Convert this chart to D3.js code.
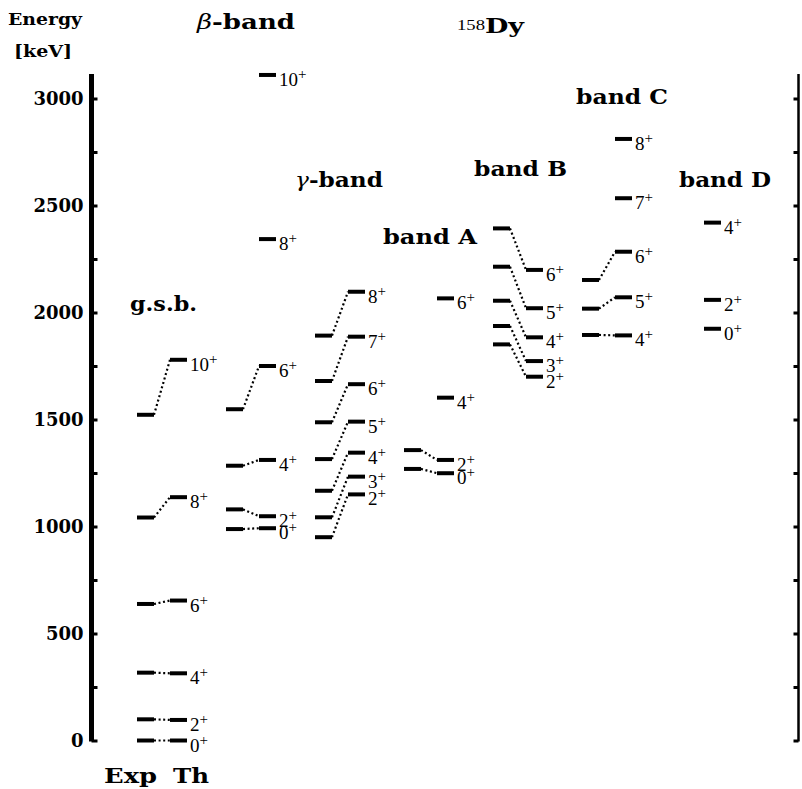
<!DOCTYPE html>
<html>
<head>
<meta charset="utf-8">
<script src="https://cdn.jsdelivr.net/npm/d3@7"></script>
<style>
  body { margin: 0; background: #fff; }
  .spin { font-family: "Liberation Serif", serif; font-size: 19px; fill: #000; }
  .ttl { font-family: "DejaVu Serif", serif; font-weight: bold; fill: #000; }
  .tick text { font-family: "DejaVu Serif", serif; font-weight: bold; font-size: 18px; fill: #000; }
</style>
</head>
<body>
<script>

// 158Dy level energies (keV)
var bands = ["g.s.b.", "β-band", "γ-band", "band A", "band B", "band C", "band D"];

var gsbSpins = ["0", "2", "4", "6", "8", "10"];
var gsbExp = [0, 99, 317, 638, 1042, 1522];
var gsbTh = [0, 96, 314, 654, 1137, 1779];

var betaSpins = ["0", "2", "4", "6", "8", "10"];
var betaExp = [988, 1080, 1284, 1548];
var betaTh = [992, 1048, 1311, 1750, 2343, 3110];

var gammaSpins = ["2", "3", "4", "5", "6", "7", "8"];
var gammaExp = [950, 1043, 1167, 1315, 1487, 1680, 1892];
var gammaTh = [1150, 1233, 1345, 1490, 1665, 1887, 2097];

var bandASpins = ["0", "2", "4", "6"];
var bandAExp = [1269, 1357];
var bandATh = [1249, 1311, 1602, 2066];

var bandBSpins = ["2", "3", "4", "5", "6"];
var bandBExp = [1851, 1937, 2055, 2214, 2393];
var bandBTh = [1700, 1773, 1884, 2020, 2199];

var bandCSpins = ["4", "5", "6", "7", "8"];
var bandCExp = [1895, 2018, 2152];
var bandCTh = [1893, 2071, 2284, 2534, 2811];

var bandDSpins = ["0", "2", "4"];
var bandDExp = [];
var bandDTh = [1924, 2059, 2420];

var majorTicks = [0, 500, 1000, 1500, 2000, 2500, 3000];
var minorTicks = d3.range(0, 3001, 250);

var levels = [
  {band: bands[0], spins: gsbSpins, exp: gsbExp, th: gsbTh},
  {band: bands[1], spins: betaSpins, exp: betaExp, th: betaTh},
  {band: bands[2], spins: gammaSpins, exp: gammaExp, th: gammaTh},
  {band: bands[3], spins: bandASpins, exp: bandAExp, th: bandATh},
  {band: bands[4], spins: bandBSpins, exp: bandBExp, th: bandBTh},
  {band: bands[5], spins: bandCSpins, exp: bandCExp, th: bandCTh},
  {band: bands[6], spins: bandDSpins, exp: bandDExp, th: bandDTh}
];

var width = 802, height = 789;

var svg = d3.select("body").append("svg")
  .attr("width", width)
  .attr("height", height);

var y = d3.scaleLinear().domain([0, 3000]).range([740.5, 98.5]);
var x = d3.scalePoint().domain(bands).range([162, 696]);

var axisL = 91.5, axisR = 798.5;

// left axis: ticks inward, labels outside
svg.append("g")
  .attr("transform", "translate(" + axisL + ",0)")
  .call(d3.axisRight(y).tickValues(minorTicks).tickSize(6).tickFormat(""))
  .call(function(g) {
    g.select(".domain").remove();
    g.selectAll(".tick line").attr("stroke", "#000").attr("stroke-width", 3);
  });

svg.append("g")
  .attr("transform", "translate(" + axisL + ",0)")
  .call(d3.axisLeft(y).tickValues(majorTicks).tickSize(0).tickPadding(8).tickFormat(d3.format("d")))
  .call(function(g) { g.select(".domain").remove(); })
  .selectAll("text").attr("dy", "0.36em");

svg.append("line")
  .attr("x1", axisL).attr("x2", axisL)
  .attr("y1", y(3115)).attr("y2", y(0) + 1)
  .attr("stroke", "#000").attr("stroke-width", 5);

// right axis
svg.append("g")
  .attr("transform", "translate(" + axisR + ",0)")
  .call(d3.axisLeft(y).tickValues(minorTicks).tickSize(5).tickFormat(""))
  .call(function(g) {
    g.select(".domain").remove();
    g.selectAll(".tick line").attr("stroke", "#000").attr("stroke-width", 3);
  });

svg.append("line")
  .attr("x1", axisR).attr("x2", axisR)
  .attr("y1", y(3115)).attr("y2", y(0) + 1)
  .attr("stroke", "#000").attr("stroke-width", 2.5);

// levels
var half = 25, inner = 8;

var bandG = svg.selectAll("g.band")
  .data(levels)
  .enter().append("g")
  .attr("class", "band")
  .attr("transform", function(d) { return "translate(" + x(d.band) + ",0)"; });

// connectors exp -> th
bandG.selectAll("line.conn")
  .data(function(d) { return d.exp.map(function(e, i) { return {e: e, t: d.th[i]}; }); })
  .enter().append("line")
  .attr("class", "conn")
  .attr("x1", -inner).attr("x2", inner)
  .attr("y1", function(d) { return y(d.e); })
  .attr("y2", function(d) { return y(d.t); })
  .attr("stroke", "#000")
  .attr("stroke-width", 2.2)
  .attr("stroke-dasharray", "2,2.6");

bandG.selectAll("line.exp")
  .data(function(d) { return d.exp; })
  .enter().append("line")
  .attr("class", "exp")
  .attr("x1", -half).attr("x2", -inner)
  .attr("y1", function(d) { return y(d); })
  .attr("y2", function(d) { return y(d); })
  .attr("stroke", "#000").attr("stroke-width", 4);

bandG.selectAll("line.th")
  .data(function(d) { return d.th; })
  .enter().append("line")
  .attr("class", "th")
  .attr("x1", inner).attr("x2", half)
  .attr("y1", function(d) { return y(d); })
  .attr("y2", function(d) { return y(d); })
  .attr("stroke", "#000").attr("stroke-width", 4);

var lab = bandG.selectAll("text.spin")
  .data(function(d) { return d.th.map(function(t, i) { return {t: t, s: d.spins[i]}; }); })
  .enter().append("text")
  .attr("class", "spin")
  .attr("x", half + 3)
  .attr("y", function(d) { return y(d.t) + 11; });

lab.append("tspan").text(function(d) { return d.s; });
lab.append("tspan")
  .attr("font-size", 15)
  .attr("dy", -7)
  .text("+");

// titles
function title(parts, tx, ty, w, size) {
  var t = svg.append("text")
    .attr("class", "ttl")
    .attr("x", tx).attr("y", ty)
    .attr("font-size", size)
    .attr("textLength", w)
    .attr("lengthAdjust", "spacingAndGlyphs");
  parts.forEach(function(p) {
    var s = t.append("tspan").text(p.text);
    if (p.italic) s.attr("font-style", "italic").attr("font-weight", "normal");
  });
  return t;
}

var titlePos = {
  "g.s.b.": [130, 311, 67],
  "γ-band": [295, 187, 88],
  "band A": [383, 244, 94],
  "band B": [474, 176, 93],
  "band C": [576, 104, 92],
  "band D": [679, 187, 92]
};

bands.forEach(function(b) {
  var p = titlePos[b];
  if (b === "β-band") {
    title([{text: "β", italic: true}, {text: "-band"}], 197, 29, 98, 20.5);
  } else if (b === "γ-band") {
    title([{text: "γ", italic: true}, {text: "-band"}], p[0], p[1], p[2], 20.5);
  } else {
    title([{text: b}], p[0], p[1], p[2], 20.5);
  }
});

title([{text: "Energy"}], 8, 25, 74, 16.5);
title([{text: "[keV]"}], 14, 57, 58, 16.5);

svg.append("text")
  .attr("x", 457).attr("y", 30)
  .attr("textLength", 28).attr("lengthAdjust", "spacingAndGlyphs")
  .style("font-family", "Liberation Serif, serif")
  .style("font-size", "15px")
  .text("158");
title([{text: "Dy"}], 485, 33, 39, 20.5);

title([{text: "Exp"}], 104, 783, 53, 21);
title([{text: "Th"}], 173, 783, 36, 21);

</script>
</body>
</html>
